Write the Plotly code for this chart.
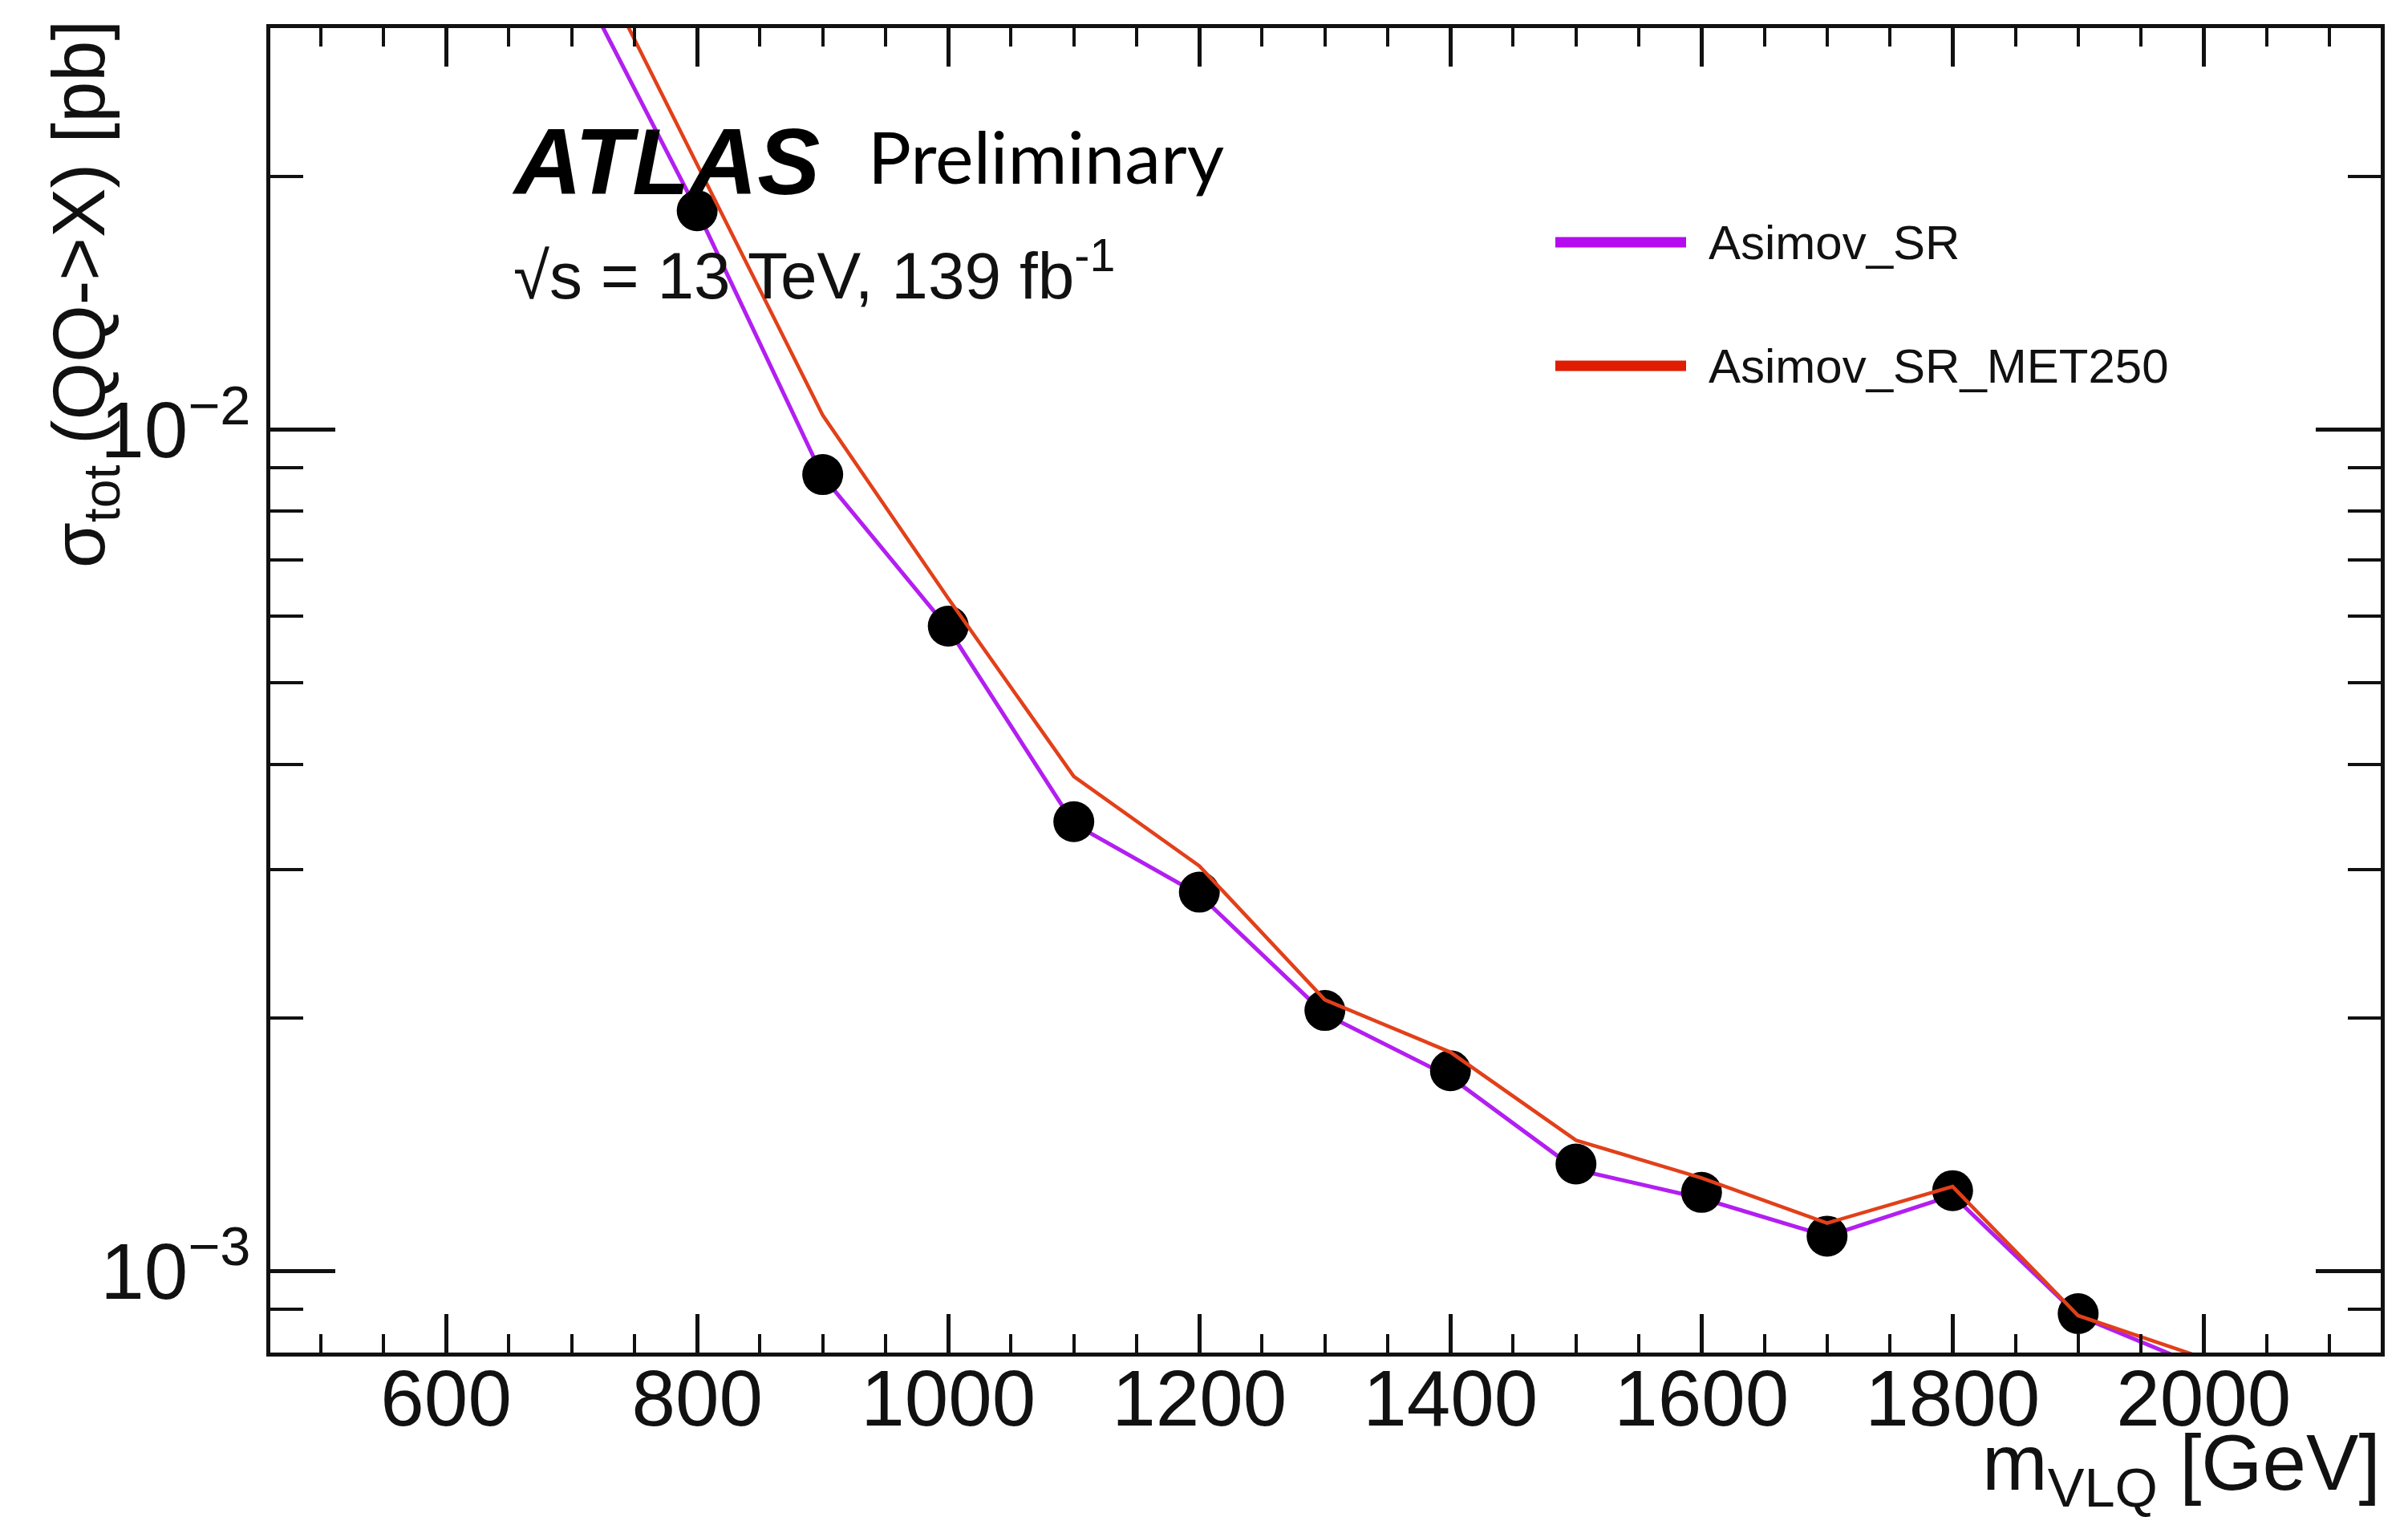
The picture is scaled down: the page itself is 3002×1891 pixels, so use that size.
import plotly.graph_objects as go

# ---------------- data ----------------
mass = [700, 800, 900, 1000, 1100, 1200, 1300, 1400, 1500, 1600, 1700, 1800, 1900, 2000]
xsec_asimov_sr = [0.0355, 0.0182, 0.0088, 0.0058, 0.0034, 0.0028, 0.00202, 0.0017,
                  0.00132, 0.00122, 0.00110, 0.00123, 0.000885, 0.000767]
xsec_asimov_sr_met250 = [0.041, 0.0206, 0.0104, 0.0063, 0.00387, 0.00303, 0.0021, 0.00182,
                         0.00143, 0.00129, 0.00114, 0.00126, 0.000885, 0.000788]
dot_mass = [800, 900, 1000, 1100, 1200, 1300, 1400, 1500, 1600, 1700, 1800, 1900]
dot_xsec = [0.0182, 0.00884, 0.00584, 0.00342, 0.00282, 0.00204, 0.00173,
            0.00134, 0.00124, 0.00110, 0.001246, 0.00089]

series_names = ["Asimov_SR", "Asimov_SR_MET250"]
series_colors = ["#b21ff0", "#e2401a"]
legend_colors = ["#b40cef", "#e01c02"]

x_range = [460, 2141]
x_major = [600, 800, 1000, 1200, 1400, 1600, 1800, 2000]
y_major = [1e-3, 1e-2]
y_major_text = ["10<sup>−3</sup>", "10<sup>−2</sup>"]
y_minor = [9e-4, 2e-3, 3e-3, 4e-3, 5e-3, 6e-3, 7e-3, 8e-3, 9e-3, 2e-2, 3e-2]

# ---------------- geometry ----------------
W, H = 3002, 1891
L, R, T, B = 337, 2968, 35, 1686
PW, PH = R - L, B - T


def px(x):
    return (x - L) / PW


def py(y):
    return (B - y) / PH


FONT = "Liberation Sans, Arial, Helvetica, sans-serif"
INK = "#111111"

fig = go.Figure()
fig.add_trace(go.Scatter(x=mass, y=xsec_asimov_sr, mode="lines",
                         line=dict(color=series_colors[0], width=5),
                         name=series_names[0], showlegend=False))
fig.add_trace(go.Scatter(x=dot_mass, y=dot_xsec, mode="markers",
                         marker=dict(color="black", size=51, line=dict(width=0)),
                         showlegend=False))
fig.add_trace(go.Scatter(x=mass, y=xsec_asimov_sr_met250, mode="lines",
                         line=dict(color=series_colors[1], width=4.5),
                         name=series_names[1], showlegend=False))

axis_common = dict(showline=True, linewidth=5, linecolor=INK, mirror="allticks",
                   ticks="inside", tickcolor=INK, showgrid=False, zeroline=False,
                   tickfont=dict(family=FONT, size=98, color=INK))

fig.update_xaxes(range=x_range, tickmode="array", tickvals=x_major,
                 ticktext=[str(v) for v in x_major], ticklen=48, tickwidth=5,
                 ticklabelstandoff=-32,
                 minor=dict(dtick=50, tick0=0, ticklen=23, tickwidth=4,
                            ticks="inside", tickcolor=INK, showgrid=False),
                 **axis_common)
fig.update_yaxes(type="log", range=[-3.09691, -1.52288], tickmode="array",
                 tickvals=y_major, ticktext=y_major_text, ticklen=81, tickwidth=5,
                 minor=dict(tickmode="array", tickvals=y_minor, ticklen=41, tickwidth=4,
                            ticks="inside", tickcolor=INK, showgrid=False),
                 **axis_common)

ann = []
# axis titles
ann.append(dict(text="m<sub>VLQ</sub> [GeV]", x=px(2970), y=py(1830), xref="paper", yref="paper",
                xanchor="right", yanchor="middle", showarrow=False,
                font=dict(family=FONT, size=98, color=INK)))
ann.append(dict(text="σ<sub>tot</sub> (QQ-&gt;X) [pb]", x=px(105), y=py(367), xref="paper", yref="paper",
                xanchor="center", yanchor="middle", textangle=-90, showarrow=False,
                font=dict(family=FONT, size=92, color=INK)))
# ATLAS label
ann.append(dict(text="<b><i>ATLAS</i></b>", x=px(636), y=py(201), xref="paper", yref="paper",
                xanchor="left", yanchor="middle", showarrow=False,
                font=dict(family=FONT, size=117, color="black")))
ann.append(dict(text="Preliminary", x=px(1080), y=py(194), xref="paper", yref="paper",
                xanchor="left", yanchor="middle", showarrow=False,
                font=dict(family="Lato, sans-serif", size=90, color="black")))
ann.append(dict(text="√s = 13 TeV, 139 fb<sup>-1</sup>", x=px(638), y=py(337), xref="paper", yref="paper",
                xanchor="left", yanchor="middle", showarrow=False,
                font=dict(family=FONT, size=82, color=INK)))

shapes = []
legend_y = [302, 456]
for name, col, ly in zip(series_names, legend_colors, legend_y):
    shapes.append(dict(type="line", xref="paper", yref="paper", x0=px(1939), x1=px(2102),
                       y0=py(ly), y1=py(ly), line=dict(color=col, width=13)))
    ann.append(dict(text=name, x=px(2128), y=py(ly), xref="paper", yref="paper",
                    xanchor="left", yanchor="middle", showarrow=False,
                    font=dict(family=FONT, size=60, color=INK)))

fig.update_layout(width=W, height=H, margin=dict(l=L, r=W - R, t=T, b=H - B),
                  paper_bgcolor="white", plot_bgcolor="white",
                  annotations=ann, shapes=shapes, showlegend=False)

fig.write_html("out.html")
